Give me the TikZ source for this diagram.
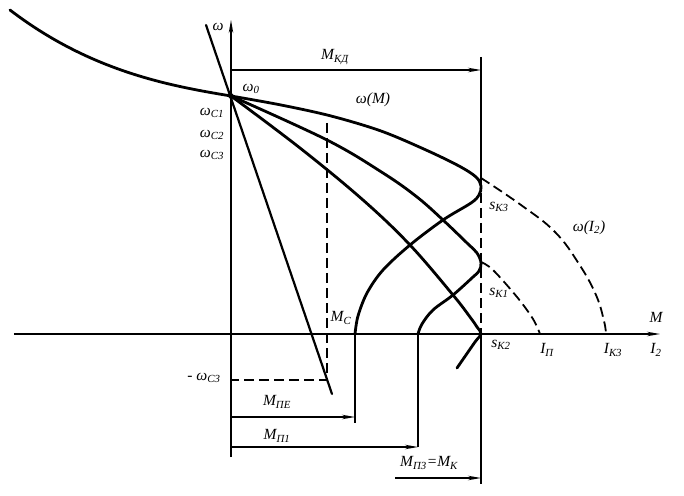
\documentclass[tikz,border=0pt]{standalone}
\usepackage{fontspec}
\setmainfont{Liberation Serif}
\usetikzlibrary{arrows.meta}
\newcommand{\lbl}[2]{\textit{#1}\textsubscript{\textit{#2}}}

\begin{document}
\begin{tikzpicture}[x=1pt,y=1pt,>={Stealth[length=13pt,width=4.5pt]},
    axis/.style={line width=1.4pt},
    curve/.style={line width=2.8pt,line join=round,line cap=round},
    dashline/.style={line width=1.8pt,dash pattern=on 10pt off 5pt},
    lab/.style={font=\fontsize{15.5}{17}\selectfont\itshape,inner sep=0pt}]
    \useasboundingbox (-231,-161) rectangle (453,334);
    \coordinate (O) at (0,0);
    \coordinate (w0) at (0,238);
    \coordinate (wtop) at (0,314);
    \coordinate (wbot) at (0,-123);
    \coordinate (Mleft) at (-217,0);
    \coordinate (Mright) at (429,0);
    \coordinate (Ktop) at (250,277);
    \coordinate (Kbot) at (250,-150);
    \coordinate (sK3) at (250,156);
    \coordinate (sK1) at (250,72);
    \coordinate (sK2) at (250,0);
    \coordinate (IP) at (309,0);
    \coordinate (IK3) at (375,0);
    \coordinate (MC) at (124,0);
    \coordinate (MP1) at (187,0);
    \coordinate (MCbot) at (124,-89);
    \coordinate (MP1bot) at (187,-113);
    \coordinate (kd) at (0,264);
    \coordinate (a1) at (0,-83);
    \coordinate (a2) at (0,-113);
    \coordinate (a3) at (164,-144);
    \coordinate (dtop) at (96,211);
    \coordinate (dbot) at (96,-46);
    \coordinate (stop) at (-25,309);
    \coordinate (sbot) at (101,-60);
    \coordinate (wstart) at (-221,324);

    \draw[axis,->] (wbot) to (wtop);
    \draw[axis,->] (Mleft) to (Mright);
    \draw[axis] (Ktop) to (sK3);
    \draw[dashline] (sK3) to (sK2);
    \draw[axis] (sK2) to (Kbot);
    \draw[axis,->] (kd) to (kd -| sK2);

    \draw[curve] (wstart) .. controls (-140,262) and (-60,248) .. (w0);
    \draw[curve] plot[smooth,tension=0.55] coordinates {(w0) (50,229) (100,218) (150,203) (195,184) (228,168)
      (245,157) (250,148) (248,139) (240,131) (212,114) (179,89) (152,64) (136,41) (127,18) (MC)};
    \draw[curve] plot[smooth,tension=0.6] coordinates {(w0) (96,194) (152,161) (186,137) (212,114) (236,91)
      (246,81) (250,71) (248,63) (242,57) (222,39) (202,24) (191,10) (MP1)};
    \draw[curve] plot[smooth,tension=0.6] coordinates {(w0) (69,186) (132,134) (179,89) (222,39) (239,17)
      (246,7) (sK2) (244,-8) (226,-34)};
    \draw[curve,line width=2.2pt] (stop) to (sbot);
    \fill (w0) circle (2.8);

    \draw[dashline] plot[smooth,tension=0.7] coordinates {(sK3) (290,129) (324,102) (348,70) (365,39) (373,13) (IK3)};
    \draw[dashline] plot[smooth,tension=0.6] coordinates {(sK1) (262,64) (286,37) (302,15) (IP)};
    \draw[dashline] (dtop) to (dbot) to (dbot -| O);

    \draw[axis] (MC) to (MCbot);
    \draw[axis] (MP1) to (MP1bot);
    \draw[axis,->] (a1) to (a1 -| MC);
    \draw[axis,->] (a2) to (a2 -| MP1);
    \draw[axis,->] (a3) to (a3 -| sK2);

    \node[lab] (omega) at (-13,307) {ω};
    \node[lab] (w0lab) at (20,245) {\lbl{ω}{0}};
    \foreach \i/\y in {1/221,2/199,3/179}
      \node[lab] (wc\i) at (-19,\y) {\lbl{ω}{С\i}};
    \node[lab] (wM) at (142,234) {ω(\textit{M})};
    \node[lab] (mkd) at (104,277) {\lbl{M}{КД}};
    \node[lab] (sk3lab) at (268,127) {\lbl{s}{К3}};
    \node[lab] (sk1lab) at (268,41) {\lbl{s}{К1}};
    \node[lab] (sk2lab) at (270,-11) {\lbl{s}{К2}};
    \node[lab] (wI) at (358,106) {ω(\lbl{I}{2})};
    \node[lab] (iplab) at (316,-16) {\lbl{I}{П}};
    \node[lab] (ik3lab) at (382,-16) {\lbl{I}{К3}};
    \node[lab] (Mlab) at (425,17) {M};
    \node[lab] (I2lab) at (425,-16) {\lbl{I}{2}};
    \node[lab] (mclab) at (110,16) {\lbl{M}{С}};
    \node[lab] (wc3neg) at (-27,-44) {- \lbl{ω}{С3}};
    \node[lab] (mpe) at (46,-68) {\lbl{M}{ПЕ}};
    \node[lab] (mp1) at (46,-102) {\lbl{M}{П1}};
    \node[lab] (mp3) at (198,-129) {\lbl{M}{П3}=\lbl{M}{К}};
\end{tikzpicture}
\end{document}
